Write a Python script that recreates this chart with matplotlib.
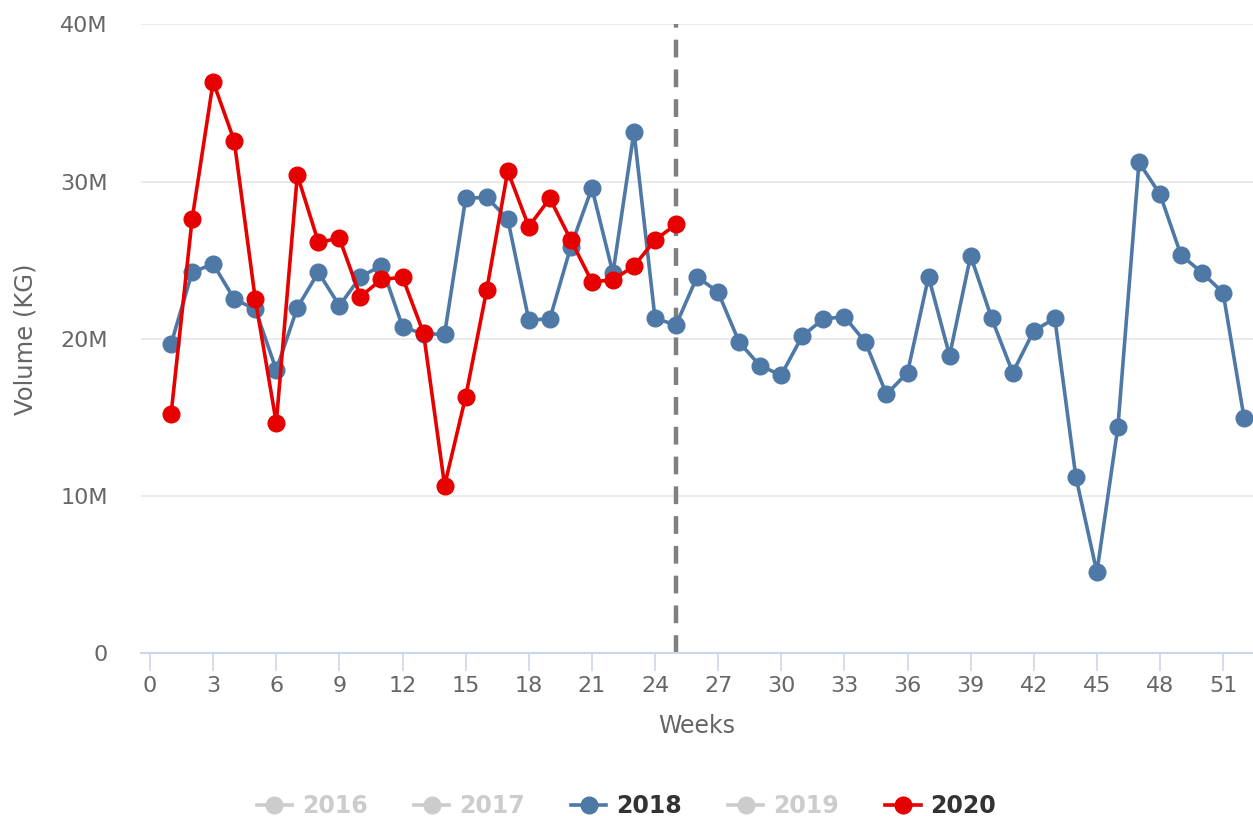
import matplotlib
matplotlib.use("Agg")
import matplotlib.pyplot as plt
from matplotlib.lines import Line2D
from matplotlib.ticker import FuncFormatter, MultipleLocator

# ---- data (volume in millions of KG) ----
weeks_2018 = list(range(1, 53))
vol_2018 = [19.67, 24.23, 24.76, 22.53, 21.88, 18.02, 21.98, 24.23, 22.10, 23.95,
            24.65, 20.77, 20.30, 20.30, 28.93, 29.00, 27.62, 21.20, 21.26, 25.86,
            29.59, 24.17, 33.17, 21.30, 20.88, 23.95, 22.96, 19.78, 18.27, 17.70,
            20.18, 21.26, 21.41, 19.78, 16.47, 17.85, 23.95, 18.93, 25.28, 21.30,
            17.85, 20.50, 21.30, 11.23, 5.15, 14.41, 31.22, 29.19, 25.33, 24.20,
            22.93, 14.94]
weeks_2020 = list(range(1, 26))
vol_2020 = [15.22, 27.62, 36.35, 32.60, 22.53, 14.66, 30.42, 26.14, 26.39, 22.68,
            23.78, 23.91, 20.35, 10.67, 16.32, 23.10, 30.67, 27.13, 28.93, 26.28,
            23.63, 23.74, 24.63, 26.28, 27.28]
current_week = 25
legend_years = ["2016", "2017", "2018", "2019", "2020"]
visible_years = {"2018": "#4e79a7", "2020": "#e60000"}

x_label = "Weeks"
y_label = "Volume (KG)"

# ---- figure ----
W, H = 1253, 816
fig = plt.figure(figsize=(W / 100, H / 100), dpi=100)
left_px, right_px, top_px, bottom_px = 141, 1253, 24.3, 653.3
ax = fig.add_axes([left_px / W, 1 - bottom_px / H,
                   (right_px - left_px) / W, (bottom_px - top_px) / H])

lw = 2.6
ms = 12
ax.plot(weeks_2018, vol_2018, color=visible_years["2018"], lw=lw, marker="o",
        ms=ms, zorder=3, solid_joinstyle="round")
ax.plot(weeks_2020, vol_2020, color=visible_years["2020"], lw=lw, marker="o",
        ms=ms, zorder=4, solid_joinstyle="round")

ax.axvline(current_week, ymin=0, ymax=1, color="#808080", lw=3.2,
           ls=(0, (4, 2.7)), zorder=2)

ax.set_xlim(-0.43, 52.42)
ax.set_ylim(0, 40)
ax.yaxis.set_major_locator(MultipleLocator(10))
ax.xaxis.set_major_locator(MultipleLocator(3))
ax.yaxis.set_major_formatter(FuncFormatter(lambda v, p: "0" if v == 0 else f"{int(v)}M"))

ax.grid(axis="y", color="#e6e6e6", lw=1.2, zorder=0)
ax.set_axisbelow(True)
for s in ["top", "right", "left"]:
    ax.spines[s].set_visible(False)
ax.spines["bottom"].set_color("#ccd6eb")
ax.spines["bottom"].set_linewidth(1.5)

ax.tick_params(axis="y", length=0, pad=24, labelsize=16, labelcolor="#666666")
ax.tick_params(axis="x", length=13, width=1.2, color="#ccd6eb", pad=3,
               labelsize=16, labelcolor="#666666")

ax.set_xlabel(x_label, fontsize=17, color="#666666", labelpad=13)
ax.set_ylabel(y_label, fontsize=17.5, color="#666666", labelpad=16)

handles = []
for yr in legend_years:
    c = visible_years.get(yr, "#cccccc")
    handles.append(Line2D([0], [0], color=c, lw=lw, marker="o", ms=ms))
leg = fig.legend(handles, legend_years, loc="center", bbox_to_anchor=(0.5, 1 - 806 / H),
                 ncol=5, frameon=False, fontsize=17, handlelength=1.5,
                 handletextpad=0.42, columnspacing=1.95)
for t, yr in zip(leg.get_texts(), legend_years):
    t.set_fontweight("bold")
    t.set_color("#333333" if yr in visible_years else "#cccccc")

fig.savefig("out.png", dpi=100)
